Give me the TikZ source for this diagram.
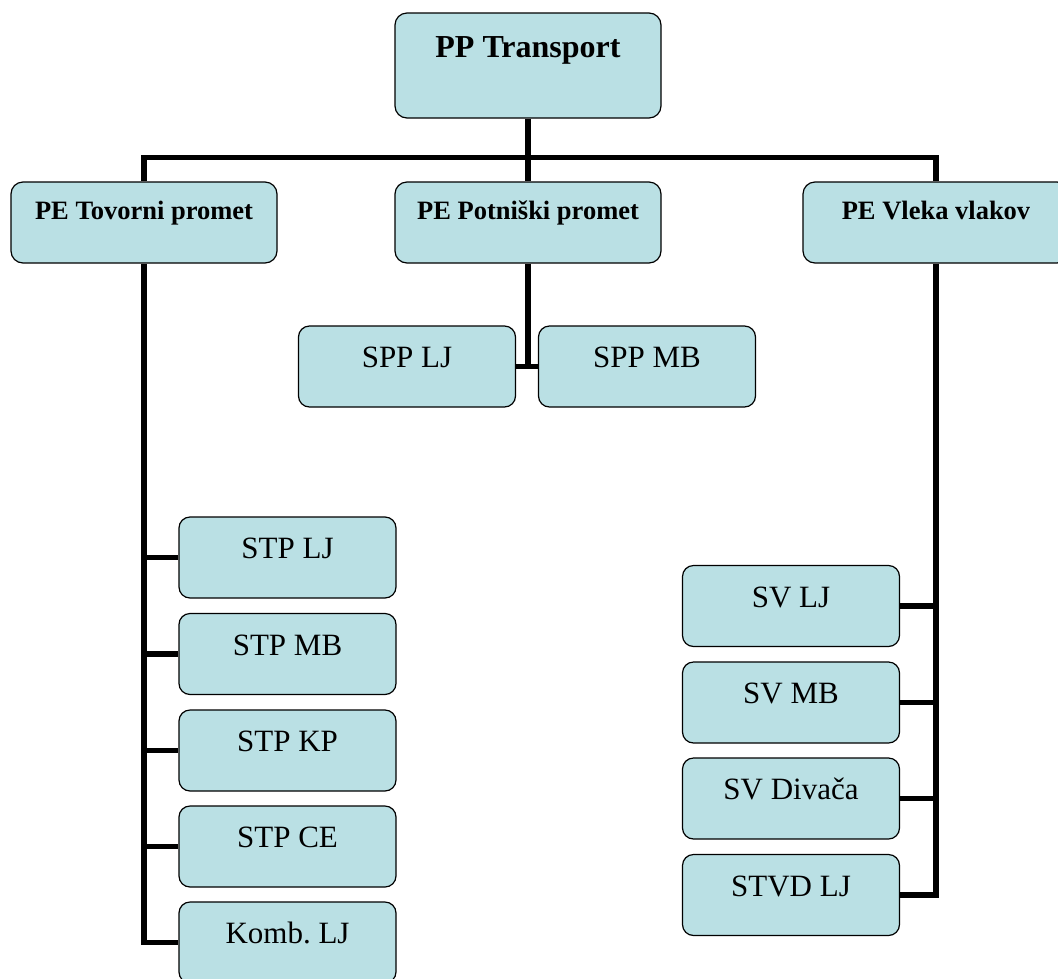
\documentclass[tikz,border=0pt]{standalone}
\usepackage{fontspec}
\setmainfont{Liberation Serif}
\usetikzlibrary{backgrounds}
\definecolor{boxfill}{RGB}{186,224,228}
\tikzset{
  orgbox/.style={draw=black, line width=1.2pt, fill=boxfill, rounded corners=12pt,
    rectangle, inner sep=0pt, align=center},
  topbox/.style={orgbox, minimum width=266pt, minimum height=105pt,
    font=\fontsize{32}{36}\selectfont\bfseries, text height=21.2pt, text depth=38pt},
  pebox/.style={orgbox, minimum width=266pt, minimum height=81pt,
    font=\fontsize{26.5}{30}\selectfont\bfseries, text height=17.5pt, text depth=24pt},
  subbox/.style={orgbox, rounded corners=11pt, minimum width=217pt, minimum height=81pt,
    font=\fontsize{31}{34}\selectfont, text height=20.5pt, text depth=18pt},
  conn/.style={draw=black, line width=5.5pt, line join=miter}
}
\begin{document}
\begin{tikzpicture}[x=1pt, y=-1pt]
\useasboundingbox (0,0) rectangle (1058,978);
\clip (0,0) rectangle (1058,978);
% nodes
\node[topbox] (top) at (528,65.5) {PP Transport};
\node[pebox] (tov) at (144,222.5) {PE Tovorni promet};
\node[pebox] (pot) at (528,222.5) {PE Potniški promet};
\node[pebox] (vle) at (936,222.5) {PE Vleka vlakov};
\node[subbox] (spplj) at (407,366.5) {SPP LJ};
\node[subbox] (sppmb) at (647,366.5) {SPP MB};
\node[subbox] (stplj) at (287.5,557.5) {STP LJ};
\node[subbox] (stpmb) at (287.5,654) {STP MB};
\node[subbox] (stpkp) at (287.5,750.5) {STP KP};
\node[subbox] (stpce) at (287.5,846.5) {STP CE};
\node[subbox] (komb) at (287.5,942.5) {Komb.\ LJ};
\node[subbox] (svlj) at (791,606) {SV LJ};
\node[subbox] (svmb) at (791,702.5) {SV MB};
\node[subbox] (svdiv) at (791,798.5) {SV Divača};
\node[subbox] (stvd) at (791,895) {STVD LJ};
\coordinate (bar) at (528,157.5);
% connectors
\begin{scope}[on background layer]
\draw[conn] (top.south) -- (pot.north);
\draw[conn] (tov.north) -- (tov.north |- bar) -- (vle.north |- bar) -- (vle.north);
\draw[conn] (pot.south) -- (pot.south |- spplj.east);
\draw[conn] (spplj.east) -- (sppmb.west);
\draw[conn] (tov.south) -- (tov.south |- komb.west) -- (komb.west);
\draw[conn] (tov.south |- stplj.west) -- (stplj.west);
\draw[conn] (tov.south |- stpmb.west) -- (stpmb.west);
\draw[conn] (tov.south |- stpkp.west) -- (stpkp.west);
\draw[conn] (tov.south |- stpce.west) -- (stpce.west);
\draw[conn] (vle.south) -- (vle.south |- stvd.east) -- (stvd.east);
\draw[conn] (vle.south |- svlj.east) -- (svlj.east);
\draw[conn] (vle.south |- svmb.east) -- (svmb.east);
\draw[conn] (vle.south |- svdiv.east) -- (svdiv.east);
\end{scope}
\end{tikzpicture}
\end{document}
